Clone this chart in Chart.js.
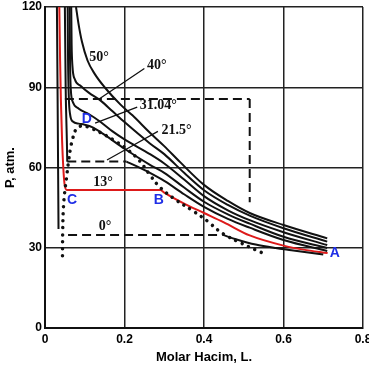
<!DOCTYPE html>
<html><head><meta charset="utf-8">
<script src="https://cdn.jsdelivr.net/npm/chart.js@4.4.1/dist/chart.umd.min.js"></script>
<style>html,body{margin:0;padding:0;background:#fff;overflow:hidden}</style>
</head><body>
<canvas id="c" width="369" height="370" style="width:369px;height:370px;display:block"></canvas>
<script>
// ---- tick values and labels ----
const volumeTicks = [0, 0.2, 0.4, 0.6, 0.8];
const volumeTickLabels = ['0', '0.2', '0.4', '0.6', '0.8'];
const pressureTicks = [0, 30, 60, 90, 120];
const pressureTickLabels = ['0', '30', '60', '90', '120'];

// ---- isotherms [molar volume L, pressure atm] ----
const iso50 = [[0.078,120],[0.084,114],[0.093,107],[0.107,100],[0.125,95],[0.15,90],[0.19,83.5],[0.22,79.5],[0.264,73],[0.3,68],[0.34,62],[0.4,53.5],[0.46,47.5],[0.515,43],[0.6,38.5],[0.71,33.5]];
const iso40 = [[0.066,120],[0.067,106],[0.069,98],[0.075,93],[0.09,90.5],[0.11,88],[0.14,85],[0.17,81],[0.2,77],[0.264,69],[0.3,65],[0.35,58],[0.4,51.5],[0.46,46],[0.515,42],[0.6,37.3],[0.71,32.3]];
const iso35 = [[0.062,120],[0.063,100],[0.065,89],[0.07,84.5],[0.085,82],[0.11,80],[0.14,77],[0.17,73.5],[0.2,70.5],[0.264,65],[0.3,61.5],[0.35,55.5],[0.4,49.3],[0.46,44],[0.515,40.3],[0.6,35.8],[0.71,31]];
const iso31 = [[0.057,120],[0.058,100],[0.06,86],[0.063,80],[0.07,77.2],[0.085,76.4],[0.1,76],[0.12,75],[0.15,72.2],[0.2,67],[0.264,61],[0.3,58],[0.35,52.5],[0.4,47.2],[0.46,42.5],[0.515,39],[0.6,34.1],[0.71,29.9]];
const iso21Liquid = [[0.05,120],[0.052,90],[0.055,70],[0.056,62.2]];
const iso21Plateau = [[0.056,62.2],[0.205,62.2]];
const iso21Vapor = [[0.205,62.2],[0.23,60.5],[0.264,58],[0.3,55],[0.35,50],[0.4,45.3],[0.46,40.8],[0.515,37.5],[0.6,32.9],[0.71,28.8]];
const iso13 = [[0.036,120],[0.038,100],[0.04,85],[0.043,70],[0.046,60],[0.049,54],[0.055,51.6],[0.29,51.6],[0.3,50.6],[0.35,46.5],[0.4,43],[0.45,39.5],[0.515,34.6],[0.6,30.8],[0.65,29.3],[0.711,28]];
const iso0Liquid = [[0.03,120],[0.032,80],[0.034,37]];
const iso0Plateau = [[0.058,34.8],[0.447,34.8]];
const iso0Vapor = [[0.447,34.8],[0.48,33.2],[0.53,31.2],[0.58,29.9],[0.62,29.1],[0.70,27.5]];
const criticalH = [[0.05,85.6],[0.515,85.6]];
const criticalV = [[0.515,85.6],[0.515,47]];
const dome = [[0.044,27],[0.0445,36],[0.046,44],[0.049,50],[0.054,56],[0.059,62],[0.064,67],[0.07,71],[0.078,74.2],[0.093,75.6],[0.11,75],[0.14,73],[0.17,70.5],[0.2,67.5],[0.235,63],[0.265,57],[0.29,52.5],[0.33,47.8],[0.37,44],[0.41,39.8],[0.435,36.6],[0.46,34.2],[0.49,32],[0.53,29.2],[0.56,27.3]];

// ---- label leaders ----
const leader40 = [[0.138,85.8],[0.25,97]];
const leader31 = [[0.126,76.6],[0.232,82.6]];
const leader21 = [[0.156,62.8],[0.284,73.5]];

// ---- annotations ----
const isothermLabels = ['50°', '40°', '31.04°', '21.5°', '13°', '0°'];
const isothermLabelAt = [[0.136,101],[0.281,98],[0.285,83.4],[0.331,74],[0.146,54.6],[0.151,37.8]];
const pointLabels = ['A', 'B', 'C', 'D'];
const pointLabelAt = [[0.729,28],[0.286,47.9],[0.068,47.9],[0.105,78]];

const toXY = arr => arr.map(p => ({x: p[0], y: p[1]}));
const BLACK = '#111';
function solid(data, w) { return {data: toXY(data), borderColor: BLACK, borderWidth: w || 2, cubicInterpolationMode: 'monotone'}; }
function dashed(data) { return {data: toXY(data), borderColor: BLACK, borderWidth: 2, borderDash: [9, 5]}; }

const datasets = [
  solid(iso50), solid(iso40), solid(iso35), solid(iso31),
  solid(iso21Liquid), dashed(iso21Plateau), solid(iso21Vapor),
  solid(iso0Liquid), dashed(iso0Plateau), solid(iso0Vapor),
  dashed(criticalH), dashed(criticalV),
  solid(leader40, 1.3), solid(leader31, 1.3), solid(leader21, 1.3),
  {data: toXY(dome), borderColor: BLACK, borderWidth: 3.5, borderDash: [0.01, 7], borderCapStyle: 'round', tension: 0.4},
  {data: toXY(iso13), borderColor: '#dd1a1a', borderWidth: 2, cubicInterpolationMode: 'monotone'}
];
datasets.forEach(d => { d.showLine = true; d.pointRadius = 0; d.fill = false; });

const labelPlugin = {
  id: 'labels',
  afterDatasetsDraw(chart) {
    const {ctx, scales: {x, y}} = chart;
    ctx.save();
    ctx.textAlign = 'center';
    ctx.textBaseline = 'middle';
    ctx.fillStyle = '#111';
    ctx.font = "bold 14px 'Liberation Serif'";
    isothermLabels.forEach((t, i) => {
      ctx.fillText(t, x.getPixelForValue(isothermLabelAt[i][0]), y.getPixelForValue(isothermLabelAt[i][1]));
    });
    ctx.fillStyle = '#1f2ee6';
    ctx.font = "bold 14px 'Liberation Sans'";
    pointLabels.forEach((t, i) => {
      ctx.fillText(t, x.getPixelForValue(pointLabelAt[i][0]), y.getPixelForValue(pointLabelAt[i][1]));
    });
    ctx.restore();
  }
};

const tickFont = {family: 'Liberation Sans', weight: 'bold', size: 12};
const titleFont = {family: 'Liberation Sans', weight: 'bold', size: 13};

new Chart(document.getElementById('c'), {
  type: 'scatter',
  data: {datasets},
  plugins: [labelPlugin],
  options: {
    responsive: false,
    devicePixelRatio: 1,
    animation: false,
    layout: {padding: {top: 7, right: 6, left: 0, bottom: 0}},
    plugins: {legend: {display: false}, tooltip: {enabled: false}},
    scales: {
      x: {
        type: 'linear', min: 0, max: 0.8,
        afterBuildTicks: s => { s.ticks = volumeTicks.map(v => ({value: v})); },
        afterFit: s => { s.height = 42; s.paddingLeft = 0; s.paddingRight = 0; },
        ticks: {callback: (v, i) => volumeTickLabels[i], font: tickFont, color: '#000', padding: 4, maxRotation: 0, autoSkip: false},
        grid: {color: '#222', lineWidth: 1.5, drawTicks: false},
        border: {color: '#111', width: 2},
        title: {display: true, text: 'Molar Hacim, L.', font: titleFont, color: '#000', padding: {top: 0, bottom: 5}}
      },
      y: {
        type: 'linear', min: 0, max: 120,
        afterBuildTicks: s => { s.ticks = pressureTicks.map(v => ({value: v})); },
        afterFit: s => { s.width = 45; s.paddingTop = 0; s.paddingBottom = 0; },
        ticks: {callback: (v, i) => pressureTickLabels[i], font: tickFont, color: '#000', padding: 3, autoSkip: false},
        grid: {color: '#222', lineWidth: 1.5, drawTicks: false},
        border: {color: '#111', width: 2},
        title: {display: true, text: 'P, atm.', font: titleFont, color: '#000', padding: {top: 3, bottom: 0}}
      }
    }
  }
});
</script>
</body></html>
